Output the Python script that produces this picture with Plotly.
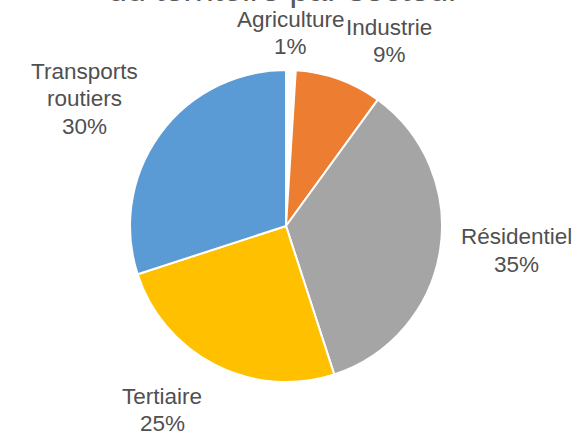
import plotly.graph_objects as go

# Emissions share by sector (%)
sectors = ["Agriculture", "Industrie", "Résidentiel", "Tertiaire", "Transports routiers"]
shares = [1, 9, 35, 25, 30]
colors = ["#FDFDFD", "#ED7D31", "#A5A5A5", "#FFC000", "#5B9BD5"]

# Label line centres in pixels: x, then y of each line from the top
label_pos = [
    (291, [20, 46]),
    (389, [28, 54]),
    (516, [236, 264]),
    (162, [396, 423]),
    (84, [72, 99, 127]),
]

W, H = 580, 432
cx, cy, r = 286, 226, 156
FONT = "Liberation Sans, Arial, sans-serif"

fig = go.Figure(go.Pie(
    labels=sectors,
    values=shares,
    sort=False,
    direction="clockwise",
    rotation=0,
    textinfo="none",
    hoverinfo="label+percent",
    marker=dict(colors=colors, line=dict(color="white", width=2)),
    domain=dict(x=[(cx - r) / W, (cx + r) / W],
                y=[(H - cy - r) / H, (H - cy + r) / H]),
    showlegend=False,
))

annotations = []
for name, val, (px, ys) in zip(sectors, shares, label_pos):
    lines = name.split(" ") + [f"{val}%"]
    for line, py in zip(lines, ys):
        annotations.append(dict(
            x=px / W, y=1 - py / H, xref="paper", yref="paper",
            text=line, showarrow=False, xanchor="center", yanchor="middle",
            font=dict(family=FONT, size=22.5, color="#505050"),
        ))

# Last line of the chart title, largely above the visible area
annotations.append(dict(
    x=284 / W, y=1 + 11 / H, xref="paper", yref="paper",
    text="du territoire par secteur", showarrow=False,
    xanchor="center", yanchor="middle",
    font=dict(family=FONT, size=34, color="#595959"),
))

fig.update_layout(
    width=W, height=H,
    margin=dict(l=0, r=0, t=0, b=0),
    paper_bgcolor="white", plot_bgcolor="white",
    annotations=annotations,
)

fig.write_html("out.html")
